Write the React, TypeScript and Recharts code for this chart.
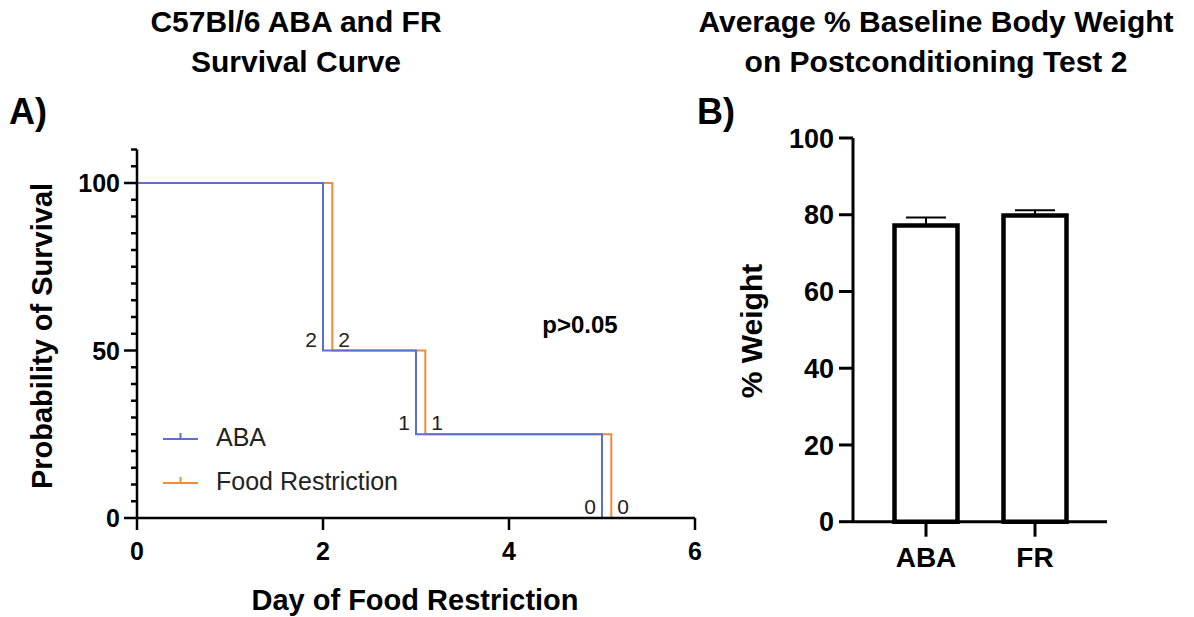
import React from 'react';
import {
  LineChart,
  Line,
  XAxis,
  YAxis,
  Legend,
  LabelList,
  BarChart,
  Bar,
  ErrorBar,
} from 'recharts';

const FONT = '"Liberation Sans", Arial, Helvetica, sans-serif';
const BLUE = '#5B6FD3';
const ORANGE = '#F28C3A';

// ---- Panel A: survival curve ----
const survivalDayTicks = [0, 2, 4, 6];
const survivalPctTicks = [0, 5, 10, 15, 20, 25, 30, 35, 40, 45, 50, 55, 60, 65, 70, 75, 80, 85, 90, 95, 100, 105, 110];
const abaDays = [0, 2, 3, 5];
const abaSurvival = [100, 50, 25, 0];
const abaAtRisk = ['', '2', '1', '0'];
const frDays = [0, 2.1, 3.1, 5.1];
const frSurvival = [100, 50, 25, 0];
const frAtRisk = ['', '2', '1', '0'];
const legendNames = ['ABA', 'Food Restriction'];
const legendColors = [BLUE, ORANGE];

// ---- Panel B: body weight ----
const weightGroups = ['ABA', 'FR'];
const weightMeans = [77.2, 79.8];
const weightSem = [2.1, 1.4];
const weightTicks = [0, 20, 40, 60, 80, 100];

const abaData = abaDays.map((d, i) => ({ day: d, pct: abaSurvival[i], risk: abaAtRisk[i] }));
const frData = frDays.map((d, i) => ({ day: d, pct: frSurvival[i], risk: frAtRisk[i] }));
const weightData = weightGroups.map((g, i) => ({ group: g, mean: weightMeans[i], err: [0, weightSem[i]] }));

const PctTick = (props: any) => {
  const { x, y, payload } = props;
  const v = payload.value;
  const major = v % 50 === 0;
  const len = major ? 13 : 6;
  return (
    <g>
      <line x1={x - len} y1={y} x2={x} y2={y} stroke="#000" strokeWidth={2.5} />
      {major && (
        <text
          x={x - len - 4}
          y={y}
          dy="0.36em"
          textAnchor="end"
          fontSize={25}
          fontWeight={700}
          fontFamily={FONT}
          fill="#000"
        >
          {v}
        </text>
      )}
    </g>
  );
};

const makeRiskLabel = (side: 'left' | 'right') => (props: any) => {
  const { x, y, value } = props;
  if (value === '' || value === undefined || value === null) return null;
  return (
    <text
      x={side === 'left' ? x - 6 : x + 6}
      y={y - 4}
      textAnchor={side === 'left' ? 'end' : 'start'}
      fontSize={21}
      fontFamily={FONT}
      fill="#222"
    >
      {value}
    </text>
  );
};

const LegendContent = () => (
  <div style={{ fontFamily: FONT }}>
    {legendNames.map((n, i) => (
      <div key={n} style={{ display: 'flex', alignItems: 'center', height: 44 }}>
        <svg width={53} height={20} style={{ display: 'block' }}>
          <line x1={0} y1={12} x2={35} y2={12} stroke={legendColors[i]} strokeWidth={2} />
          <line x1={17.5} y1={12} x2={17.5} y2={6} stroke={legendColors[i]} strokeWidth={2} />
        </svg>
        <span style={{ fontSize: 25, color: '#222', whiteSpace: 'nowrap' }}>{n}</span>
      </div>
    ))}
  </div>
);

const textBase: React.CSSProperties = {
  position: 'absolute',
  fontFamily: FONT,
  fontWeight: 700,
  color: '#000',
  whiteSpace: 'nowrap',
};

export default function App() {
  return (
    <div
      style={{
        position: 'absolute',
        left: 0,
        top: 0,
        width: 1194,
        height: 617,
        background: '#fff',
        overflow: 'hidden',
      }}
    >
      {/* Titles */}
      <div style={{ ...textBase, left: 296, top: 2, transform: 'translateX(-50%)', fontSize: 30, lineHeight: '40px', textAlign: 'center' }}>
        C57Bl/6 ABA and FR
        <br />
        Survival Curve
      </div>
      <div style={{ ...textBase, left: 936, top: 2, transform: 'translateX(-50%)', fontSize: 30, lineHeight: '40px', textAlign: 'center' }}>
        Average % Baseline Body Weight
        <br />
        on Postconditioning Test 2
      </div>
      <div style={{ ...textBase, left: 9, top: 112, transform: 'translateY(-50%)', fontSize: 36, lineHeight: '40px' }}>A)</div>
      <div style={{ ...textBase, left: 697, top: 112, transform: 'translateY(-50%)', fontSize: 36, lineHeight: '40px' }}>B)</div>

      {/* Panel A chart */}
      <div style={{ position: 'absolute', left: 0, top: 0 }}>
        <LineChart width={720} height={617} margin={{ top: 149.5, right: 25, bottom: 0, left: 0 }}>
          <XAxis
            dataKey="day"
            type="number"
            domain={[0, 6]}
            ticks={survivalDayTicks}
            interval={0}
            height={99}
            tickSize={12}
            tickMargin={12}
            axisLine={{ stroke: '#000', strokeWidth: 2.5 }}
            tickLine={{ stroke: '#000', strokeWidth: 2.5 }}
            tick={{ fontSize: 25, fontWeight: 700, fill: '#000', fontFamily: FONT }}
          />
          <YAxis
            type="number"
            domain={[0, 110]}
            ticks={survivalPctTicks}
            interval={0}
            width={137}
            tickSize={0}
            tickMargin={0}
            tickLine={false}
            axisLine={{ stroke: '#000', strokeWidth: 2.5 }}
            tick={<PctTick />}
          />
          <Legend
            layout="horizontal"
            verticalAlign="middle"
            align="center"
            content={<LegendContent />}
            wrapperStyle={{ left: 163, top: 415, width: 320 }}
          />
          <Line
            data={frData}
            dataKey="pct"
            name="Food Restriction"
            type="stepAfter"
            stroke={ORANGE}
            strokeWidth={2}
            dot={false}
            isAnimationActive={false}
          >
            <LabelList dataKey="risk" content={makeRiskLabel('right')} />
          </Line>
          <Line
            data={abaData}
            dataKey="pct"
            name="ABA"
            type="stepAfter"
            stroke={BLUE}
            strokeWidth={2}
            dot={false}
            isAnimationActive={false}
          >
            <LabelList dataKey="risk" content={makeRiskLabel('left')} />
          </Line>
        </LineChart>
      </div>

      <div style={{ ...textBase, left: 580, top: 325, transform: 'translate(-50%, -50%)', fontSize: 24 }}>p&gt;0.05</div>
      <div style={{ ...textBase, left: 415, top: 600, transform: 'translate(-50%, -50%)', fontSize: 29 }}>Day of Food Restriction</div>
      <div style={{ ...textBase, left: 42, top: 336, transform: 'translate(-50%, -50%) rotate(-90deg)', fontSize: 29 }}>Probability of Survival</div>

      {/* Panel B chart */}
      <div style={{ position: 'absolute', left: 700, top: 0 }}>
        <BarChart width={494} height={617} data={weightData} margin={{ top: 138, right: 87, bottom: 0, left: 0 }}>
          <XAxis
            dataKey="group"
            type="category"
            height={95.3}
            padding={{ left: 18.5, right: 17.5 }}
            tickSize={15}
            tickMargin={10}
            axisLine={{ stroke: '#000', strokeWidth: 3 }}
            tickLine={{ stroke: '#000', strokeWidth: 3 }}
            tick={{ fontSize: 28, fontWeight: 700, fill: '#000', fontFamily: FONT }}
          />
          <YAxis
            type="number"
            domain={[0, 100]}
            ticks={weightTicks}
            interval={0}
            width={153}
            tickSize={14}
            tickMargin={5}
            axisLine={{ stroke: '#000', strokeWidth: 3 }}
            tickLine={{ stroke: '#000', strokeWidth: 3 }}
            tick={{ fontSize: 27, fontWeight: 700, fill: '#000', fontFamily: FONT }}
          />
          <Bar dataKey="mean" fill="#fff" stroke="#000" strokeWidth={4.5} barSize={63} isAnimationActive={false}>
            <ErrorBar dataKey="err" width={20} stroke="#000" strokeWidth={2} direction="y" />
          </Bar>
        </BarChart>
      </div>
      <div style={{ ...textBase, left: 752, top: 331, transform: 'translate(-50%, -50%) rotate(-90deg)', fontSize: 30 }}>% Weight</div>
    </div>
  );
}
